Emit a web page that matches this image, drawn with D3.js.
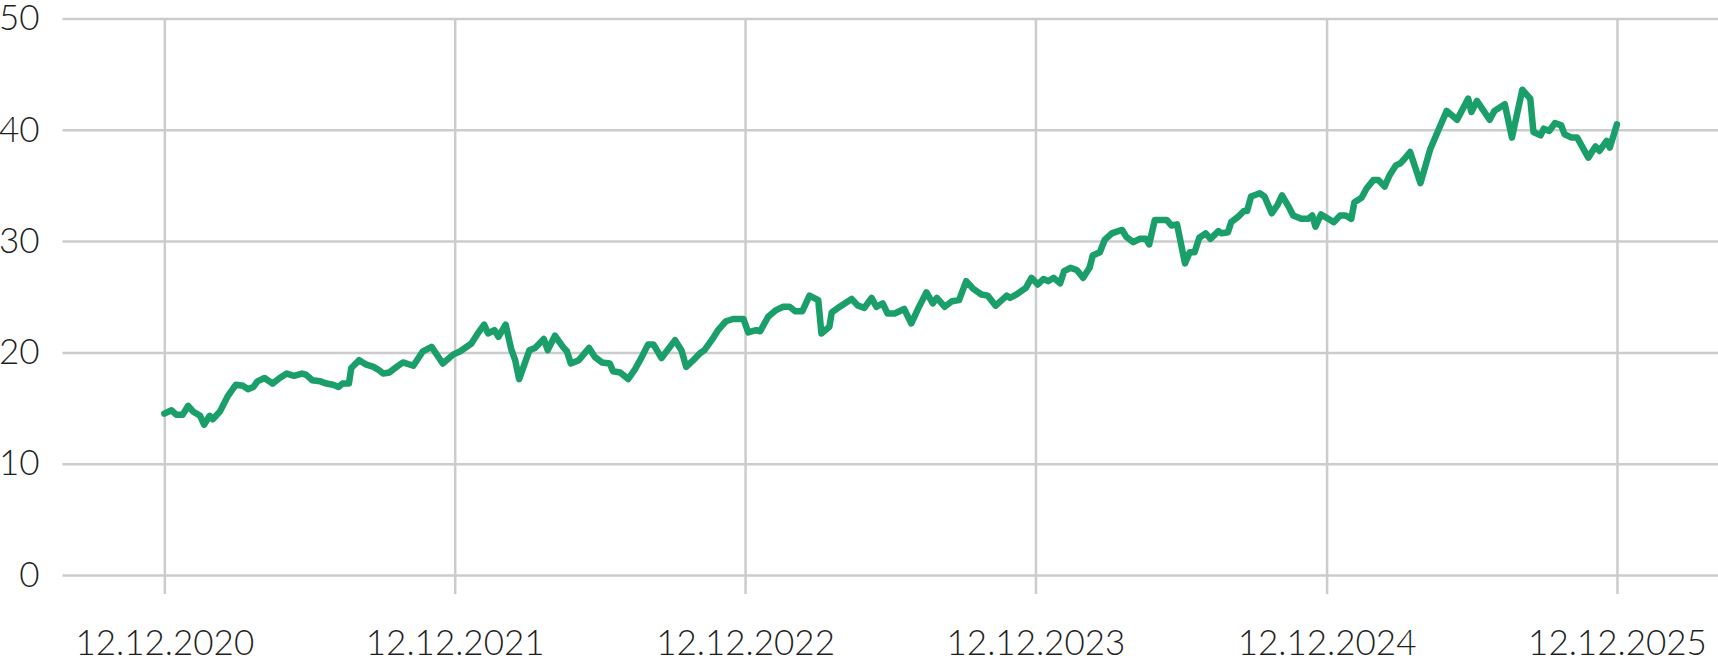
<!DOCTYPE html>
<html>
<head>
<meta charset="utf-8">
<script src="https://cdn.jsdelivr.net/npm/d3@7"></script>
<style>
  html, body { margin: 0; padding: 0; background: #fff; }
  svg { display: block; }
  .axis text { font-family: Lato, "Open Sans", sans-serif; font-weight: 300; font-size: 35px; fill: #1f1f1f; }
  .axis line { stroke: #cccccc; stroke-width: 2.5px; }
</style>
</head>
<body>
<div id="chart"></div>
<script>
// series
const dates = [
  '2020-12-12', '2020-12-21', '2020-12-27', '2021-01-04', '2021-01-11', '2021-01-17', '2021-01-26', '2021-01-31',
  '2021-02-07', '2021-02-11', '2021-02-20', '2021-03-02', '2021-03-12', '2021-03-21', '2021-03-27', '2021-04-03',
  '2021-04-08', '2021-04-17', '2021-04-27', '2021-05-06', '2021-05-15', '2021-05-24', '2021-06-03', '2021-06-08',
  '2021-06-16', '2021-06-26', '2021-07-04', '2021-07-12', '2021-07-19', '2021-07-24', '2021-08-01', '2021-08-04',
  '2021-08-14', '2021-08-23', '2021-09-01', '2021-09-08', '2021-09-13', '2021-09-21', '2021-09-30', '2021-10-08',
  '2021-10-21', '2021-11-02', '2021-11-13', '2021-11-27', '2021-12-10', '2021-12-19', '2022-01-02', '2022-01-11',
  '2022-01-18', '2022-01-23', '2022-01-31', '2022-02-05', '2022-02-14', '2022-02-21', '2022-02-26', '2022-03-03',
  '2022-03-16', '2022-03-23', '2022-04-03', '2022-04-08', '2022-04-17', '2022-04-27', '2022-05-02', '2022-05-07',
  '2022-05-17', '2022-05-30', '2022-06-06', '2022-06-15', '2022-06-25', '2022-06-29', '2022-07-08', '2022-07-18',
  '2022-07-26', '2022-08-02', '2022-08-12', '2022-08-19', '2022-08-29', '2022-09-15', '2022-09-23', '2022-09-29',
  '2022-10-08', '2022-10-16', '2022-10-22', '2022-10-31', '2022-11-08', '2022-11-18', '2022-11-27', '2022-12-10',
  '2022-12-16', '2022-12-26', '2022-12-31', '2023-01-10', '2023-01-20', '2023-01-29', '2023-02-06', '2023-02-13',
  '2023-02-22', '2023-03-03', '2023-03-14', '2023-03-18', '2023-03-28', '2023-03-31', '2023-04-10', '2023-04-25',
  '2023-05-03', '2023-05-11', '2023-05-20', '2023-05-26', '2023-06-03', '2023-06-09', '2023-06-18', '2023-06-30',
  '2023-07-09', '2023-07-18', '2023-07-28', '2023-08-05', '2023-08-10', '2023-08-20', '2023-08-29', '2023-09-07',
  '2023-09-16', '2023-09-25', '2023-10-05', '2023-10-13', '2023-10-23', '2023-11-06', '2023-11-10', '2023-11-18',
  '2023-11-30', '2023-12-07', '2023-12-15', '2023-12-22', '2023-12-28', '2024-01-04', '2024-01-12', '2024-01-17',
  '2024-01-25', '2024-02-02', '2024-02-10', '2024-02-18', '2024-02-22', '2024-03-02', '2024-03-08', '2024-03-17',
  '2024-03-25', '2024-03-30', '2024-04-04', '2024-04-13', '2024-04-21', '2024-04-29', '2024-05-03', '2024-05-10',
  '2024-05-25', '2024-05-31', '2024-06-07', '2024-06-17', '2024-06-23', '2024-06-29', '2024-07-05', '2024-07-13',
  '2024-07-19', '2024-07-29', '2024-08-02', '2024-08-10', '2024-08-14', '2024-08-23', '2024-08-30', '2024-09-03',
  '2024-09-08', '2024-09-19', '2024-09-25', '2024-10-04', '2024-10-11', '2024-10-17', '2024-10-26', '2024-10-31',
  '2024-11-10', '2024-11-19', '2024-11-24', '2024-11-28', '2024-12-05', '2024-12-14', '2024-12-21', '2024-12-29',
  '2025-01-05', '2025-01-12', '2025-01-16', '2025-01-25', '2025-01-31', '2025-02-09', '2025-02-15', '2025-02-23',
  '2025-03-01', '2025-03-09', '2025-03-15', '2025-03-20', '2025-03-27', '2025-04-09', '2025-04-21', '2025-05-01',
  '2025-05-12', '2025-05-25', '2025-06-08', '2025-06-12', '2025-06-19', '2025-07-05', '2025-07-11', '2025-07-24',
  '2025-08-02', '2025-08-15', '2025-08-25', '2025-08-29', '2025-09-07', '2025-09-11', '2025-09-18', '2025-09-25',
  '2025-10-03', '2025-10-07', '2025-10-16', '2025-10-23', '2025-11-06', '2025-11-15', '2025-11-20', '2025-11-29',
  '2025-12-03', '2025-12-12'
];
const values = [
  14.5, 14.8, 14.4, 14.4, 15.2, 14.7, 14.3, 13.5,
  14.3, 14.0, 14.7, 16.1, 17.1, 17.0, 16.7, 16.9,
  17.4, 17.7, 17.2, 17.7, 18.1, 17.9, 18.1, 18.0,
  17.5, 17.4, 17.2, 17.1, 16.9, 17.2, 17.2, 18.6,
  19.3, 18.9, 18.7, 18.4, 18.1, 18.2, 18.7, 19.1,
  18.8, 20.1, 20.5, 19.0, 19.8, 20.1, 20.8, 21.8,
  22.5, 21.7, 22.0, 21.4, 22.5, 20.3, 19.3, 17.6,
  20.2, 20.4, 21.2, 20.2, 21.5, 20.5, 20.1, 19.0,
  19.3, 20.4, 19.6, 19.1, 19.0, 18.3, 18.2, 17.6,
  18.4, 19.3, 20.7, 20.7, 19.5, 21.1, 20.2, 18.7,
  19.3, 19.9, 20.2, 21.1, 22.0, 22.8, 23.0, 23.0,
  21.8, 22.0, 21.9, 23.2, 23.8, 24.1, 24.1, 23.7,
  23.7, 25.1, 24.7, 21.7, 22.3, 23.6, 24.1, 24.8,
  24.2, 24.0, 24.9, 24.1, 24.4, 23.5, 23.5, 23.9,
  22.6, 24.0, 25.4, 24.4, 24.9, 24.1, 24.6, 24.7,
  26.4, 25.7, 25.2, 25.1, 24.2, 25.1, 24.9, 25.2,
  25.8, 26.7, 26.1, 26.6, 26.4, 26.7, 26.2, 27.3,
  27.6, 27.4, 26.7, 27.6, 28.7, 29.0, 30.1, 30.7,
  30.9, 31.0, 30.4, 29.9, 30.2, 30.2, 29.7, 31.9,
  31.9, 31.4, 31.5, 28.0, 29.0, 29.0, 30.3, 30.7,
  30.2, 30.9, 30.7, 30.8, 31.7, 32.2, 32.7, 32.7,
  34.0, 34.3, 34.0, 32.5, 33.2, 34.1, 33.0, 32.3,
  32.0, 32.0, 32.3, 31.3, 32.4, 32.0, 31.7, 32.3,
  32.3, 32.0, 33.5, 33.9, 34.7, 35.5, 35.5, 34.9,
  35.9, 36.8, 37.0, 37.4, 38.0, 35.2, 38.2, 39.9,
  41.7, 40.9, 42.8, 41.6, 42.6, 40.9, 41.7, 42.3,
  39.3, 43.6, 42.8, 39.8, 39.5, 40.1, 39.9, 40.6,
  40.4, 39.6, 39.3, 39.3, 37.5, 38.5, 38.1, 39.0,
  38.4, 40.5
];

// axes
const xDomain = ['2020-08-06', '2026-04-18'];
const xTicks = ['2020-12-12', '2021-12-12', '2022-12-12', '2023-12-12', '2024-12-12', '2025-12-12'];
const yTicks = [0, 10, 20, 30, 40, 50];

const width = 1718;
const height = 658;
const margin = { top: 18.5, right: 0, bottom: 83, left: 62.5 };
const plotBottom = height - margin.bottom;

const parse = d3.timeParse('%Y-%m-%d');
const fmt = d3.timeFormat('%d.%m.%Y');

const data = dates.map((d, i) => ({ date: parse(d), value: values[i] }));

const x = d3.scaleTime()
  .domain(xDomain.map(parse))
  .range([margin.left, width - margin.right]);

const y = d3.scaleLinear()
  .domain([0, 50])
  .range([plotBottom, margin.top]);

const svg = d3.select('#chart').append('svg')
  .attr('width', width)
  .attr('height', height)
  .attr('viewBox', [0, 0, width, height]);

// horizontal grid + y labels
svg.append('g')
  .attr('class', 'axis y')
  .attr('transform', `translate(${margin.left},0)`)
  .call(d3.axisLeft(y)
    .tickValues(yTicks)
    .tickSize(-(width - margin.left - margin.right))
    .tickPadding(23)
    .tickFormat(d3.format('d')))
  .call((g) => g.select('.domain').remove());

// vertical grid + date labels, lines run a bit below zero
const xAxisY = plotBottom + 19;
svg.append('g')
  .attr('class', 'axis x')
  .attr('transform', `translate(0,${xAxisY})`)
  .call(d3.axisBottom(x)
    .tickValues(xTicks.map(parse))
    .tickSize(-(xAxisY - margin.top))
    .tickPadding(36)
    .tickFormat(fmt))
  .call((g) => g.select('.domain').remove());

const line = d3.line()
  .x((d) => x(d.date))
  .y((d) => y(d.value));

svg.append('path')
  .datum(data)
  .attr('fill', 'none')
  .attr('stroke', '#1a9e6a')
  .attr('stroke-width', 6.5)
  .attr('stroke-linejoin', 'round')
  .attr('stroke-linecap', 'round')
  .attr('d', line);
</script>
</body>
</html>
